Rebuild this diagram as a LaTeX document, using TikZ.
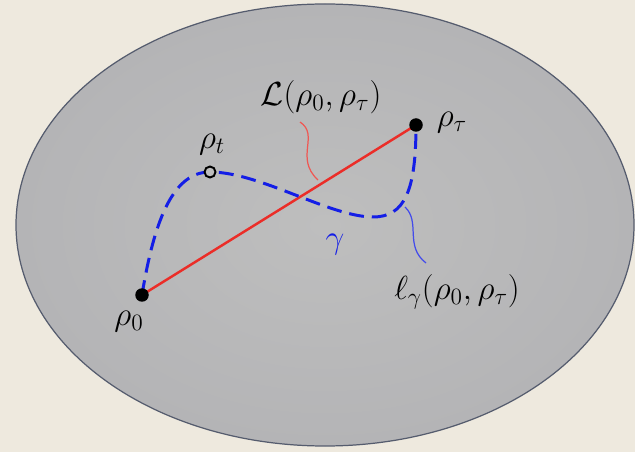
\documentclass[tikz,border=0pt]{standalone}
\usepackage{fix-cm}
\usepackage{xcolor}
\usepackage{tikz}
\usetikzlibrary{positioning,calc}
\definecolor{paper}{RGB}{238,233,222}
\definecolor{ballin}{RGB}{190,190,190}
\definecolor{ballout}{RGB}{180,180,182}
\definecolor{rim}{RGB}{85,92,110}
\definecolor{curveblue}{RGB}{20,30,230}
\definecolor{geored}{RGB}{235,45,40}
\tikzset{
  dot/.style={circle, fill=black, minimum size=0.27cm, inner sep=0pt},
  opendot/.style={circle, draw=black, line width=1.1pt, fill=ballin,
                  minimum size=0.22cm, inner sep=0pt},
  lbl/.style={font=\fontsize{19}{23}\selectfont, inner sep=1pt},
  geod/.style={line width=1.4pt, geored},
  gammapath/.style={line width=1.7pt, curveblue, dash pattern=on 8.5pt off 4.5pt},
  note/.style={line width=0.7pt}
}

\begin{document}
\begin{tikzpicture}[x=0.02cm, y=-0.02cm]
    \useasboundingbox (0,0) rectangle (635,452);
    \fill[paper] (0,0) rectangle (635,452);
    \shade[inner color=ballin, outer color=ballout, draw=rim, line width=0.7pt]
      (325,225) ellipse [x radius=309, y radius=221];
    % end points of the paths
    \coordinate (r0) at (142,295);
    \coordinate (rtau) at (416,125);
    \coordinate (rt) at (210,172);
    \draw[geod] (r0) -- (rtau);
    \draw[gammapath] (r0) .. controls (155,215) and (175,172) .. (rt)
      .. controls (260,172) and (330,217) .. (373,217)
      .. controls (405,217) and (416,190) .. (rtau);
    \node[dot] (d0) at (r0) {};
    \node[dot] (dtau) at (rtau) {};
    \node[opendot] (dt) at (rt) {};
    % labels
    \node[lbl] (l0) at (129,322) {$\rho_0$};
    \node[lbl] (ltau) at (452,123) {$\rho_\tau$};
    \node[lbl] (lt) at (212,145) {$\rho_t$};
    \node[lbl] (lL) at (321,97) {$\mathcal{L}(\rho_0,\rho_\tau)$};
    \node[lbl, text=curveblue] (lgamma) at (335,245) {$\gamma$};
    \node[lbl] (lell) at (457,292) {$\ell_\gamma(\rho_0,\rho_\tau)$};
    % wavy pointers
    \coordinate (cL) at (300,122);
    \coordinate (eL) at (318,180);
    \draw[note, geored!80] (cL) .. controls (320,135) and (294,158) .. (eL);
    \coordinate (cg) at (405,207);
    \coordinate (eg) at (426,263);
    \draw[note, curveblue!80] (cg) .. controls (421,222) and (404,246) .. (eg);
\end{tikzpicture}
\end{document}
